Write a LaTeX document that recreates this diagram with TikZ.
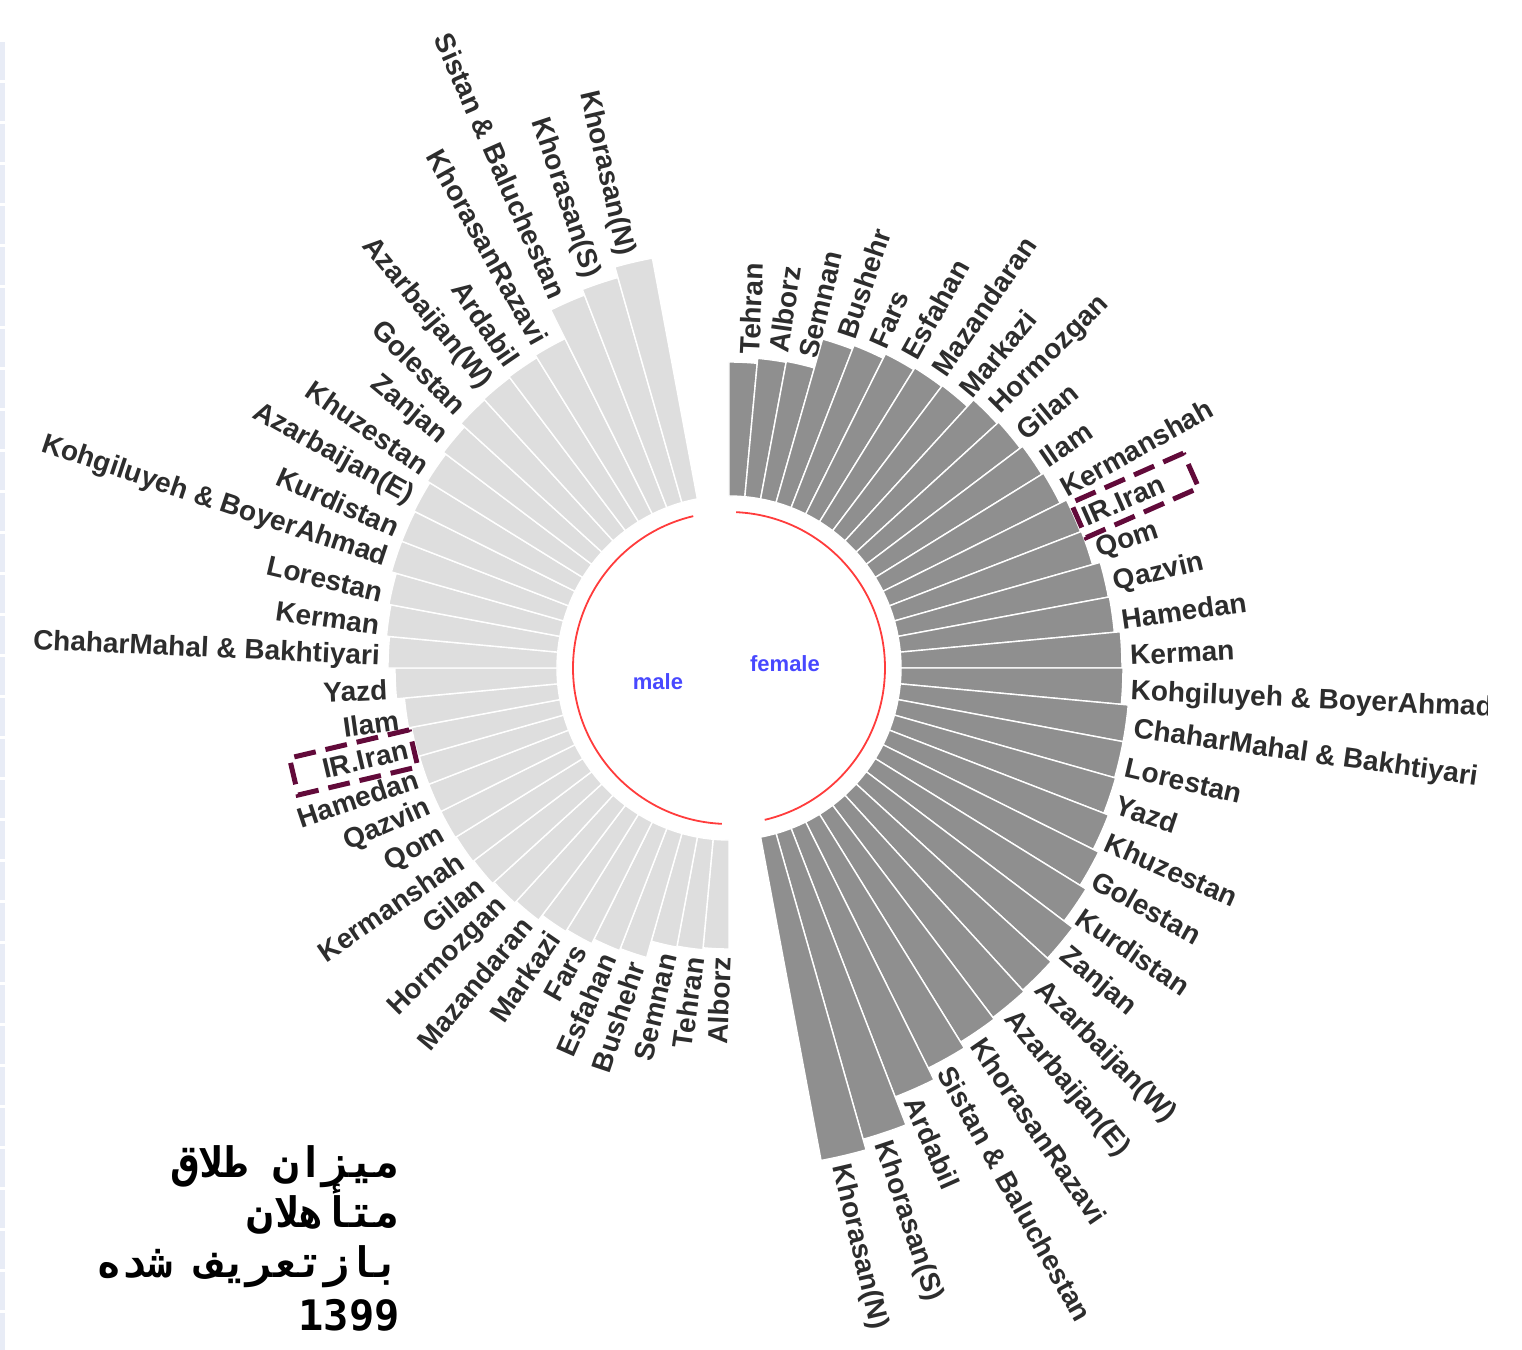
\documentclass[tikz,border=0pt]{standalone}
\usepackage{fontspec}
\setmainfont{Liberation Sans}
\newfontfamily\persianfont[Script=Arabic]{DejaVu Sans Mono}
\newfontfamily\digitfont{DejaVu Sans Mono}
\TeXXeTstate=1

\definecolor{femalegrey}{RGB}{143,143,143}
\definecolor{malegrey}{RGB}{222,222,222}
\definecolor{labelgrey}{RGB}{45,45,45}
\definecolor{sexblue}{RGB}{72,72,255}
\definecolor{ringred}{RGB}{255,60,60}
\definecolor{boxmaroon}{RGB}{98,10,58}
\definecolor{rulerstrip}{RGB}{232,236,246}

\begin{document}
\begin{tikzpicture}[
    x=0.5pt, y=0.5pt, % one unit = one pixel of the reference
    bar/.style={draw=white, line width=0.7pt},
    femalebar/.style={bar, fill=femalegrey},
    malebar/.style={bar, fill=malegrey},
    province/.style={text=labelgrey, inner sep=0pt, font=\bfseries\fontsize{14}{16}\selectfont},
    sexname/.style={text=sexblue, font=\bfseries\fontsize{11}{13}\selectfont},
    innerring/.style={draw=ringred, line width=0.9pt},
    highlight/.style={draw=boxmaroon, line width=2.5pt, dash pattern=on 11pt off 5pt,
        minimum width=61.5pt, minimum height=19pt, inner sep=0pt},
    persian/.style={anchor=base east, inner sep=0pt, font=\persianfont\bfseries\fontsize{21}{26}\selectfont},
]
\useasboundingbox (-729,-682) rectangle (793,668);

% ruler strip on the left edge
\foreach \i in {0,...,31}
    \fill[rulerstrip] (-729,626-41*\i) rectangle (-724,588-41*\i);

\pgfmathsetmacro{\slot}{360/68}

\begin{scope}
\clip (-729,-682) rectangle (758,668);

% female side, clockwise from the top
\foreach \len/\name [count=\k from 0] in {306/Tehran, 311/Alborz, 312/Semnan, 342/Bushehr,
    346/Fars, 351/Esfahan, 353/Mazandaran, 354/Markazi, 363/Hormozgan, 365/Gilan, 368/Ilam,
    370/Kermanshah, 377/IR.Iran, 378/Qom, 386/Qazvin, 387/Hamedan, 393/Kerman,
    394/Kohgiluyeh \& BoyerAhmad, 401/ChaharMahal \& Bakhtiyari, 401/Lorestan, 402/Yazd,
    407/Khuzestan, 413/Golestan, 420/Kurdistan, 431/Zanjan, 436/Azarbaijan(W),
    438/Azarbaijan(E), 440/KhorasanRazavi, 447/Sistan \& Baluchestan, 460/Ardabil,
    490/Khorasan(S), 501/Khorasan(N)}{
    \pgfmathsetmacro{\startang}{90-\k*\slot}
    \pgfmathsetmacro{\endang}{\startang-\slot}
    \pgfmathsetmacro{\midang}{\startang-\slot/2}
    \pgfmathsetmacro{\tipx}{\len*cos(\midang)+6*sin(\midang)}
    \pgfmathsetmacro{\tipy}{\len*sin(\midang)-6*cos(\midang)}
    \pgfmathsetmacro{\labx}{\tipx+8*cos(\midang)}
    \pgfmathsetmacro{\laby}{\tipy+8*sin(\midang)}
    \path[femalebar] (\startang:172) arc[start angle=\startang, end angle=\endang, radius=172]
        -- (\endang:\len) arc[start angle=\endang, end angle=\startang, radius=\len] -- cycle;
    \coordinate (ftip\k) at (\tipx,\tipy);
    \node[province, anchor=west, rotate=\midang] (f\k) at (\labx,\laby) {\name};
}

% male side, clockwise from the bottom
\foreach \len/\name [count=\k from 0] in {281/Alborz, 283/Tehran, 284/Semnan, 301/Bushehr,
    303/Esfahan, 308/Fars, 310/Markazi, 316/Mazandaran, 318/Hormozgan, 320/Gilan,
    321/Kermanshah, 322/Qom, 322/Qazvin, 322/Hamedan, 323/IR.Iran, 326/Ilam, 334/Yazd,
    341/ChaharMahal \& Bakhtiyari, 344/Kerman, 346/Lorestan, 351/Kohgiluyeh \& BoyerAhmad,
    351/Kurdistan, 352/Azarbaijan(E), 355/Khuzestan, 358/Zanjan, 363/Golestan,
    364/Azarbaijan(W), 365/Ardabil, 368/KhorasanRazavi, 400/Sistan \& Baluchestan,
    406/Khorasan(S), 417/Khorasan(N)}{
    \pgfmathsetmacro{\startang}{270-\k*\slot}
    \pgfmathsetmacro{\endang}{\startang-\slot}
    \pgfmathsetmacro{\midang}{\startang-\slot/2}
    \pgfmathsetmacro{\tipx}{\len*cos(\midang)-6*sin(\midang)}
    \pgfmathsetmacro{\tipy}{\len*sin(\midang)+6*cos(\midang)}
    \pgfmathsetmacro{\labx}{\tipx+8*cos(\midang)}
    \pgfmathsetmacro{\laby}{\tipy+8*sin(\midang)}
    \pgfmathsetmacro{\labrot}{\midang-180}
    \path[malebar] (\startang:172) arc[start angle=\startang, end angle=\endang, radius=172]
        -- (\endang:\len) arc[start angle=\endang, end angle=\startang, radius=\len] -- cycle;
    \coordinate (mtip\k) at (\tipx,\tipy);
    \node[province, anchor=east, rotate=\labrot] (m\k) at (\labx,\laby) {\name};
}
\end{scope}

% inner ring under each half
\pgfmathsetmacro{\ffirst}{90-\slot/2}
\pgfmathsetmacro{\flast}{90-31.5*\slot}
\pgfmathsetmacro{\mfirst}{270-\slot/2}
\pgfmathsetmacro{\mlast}{270-31.5*\slot}
\draw[innerring] (\ffirst:156) arc[start angle=\ffirst, end angle=\flast, radius=156];
\draw[innerring] (\mfirst:156) arc[start angle=\mfirst, end angle=\mlast, radius=156];

\node[sexname] (male) at (-71,-14) {male};
\node[sexname] (female) at (56,4) {female};

% IR.Iran boxes
\pgfmathsetmacro{\fboxrot}{90-12.5*\slot}
\pgfmathsetmacro{\mboxrot}{90-14.5*\slot}
\node[highlight, anchor=west, rotate=\fboxrot] (fbox) at (ftip12) {};
\node[highlight, anchor=east, rotate=\mboxrot] (mbox) at (mtip14) {};

% title
\node[persian] (title1) at (-329,-509) {\beginR میزان طلاق\endR};
\node[persian] (title2) at (-329,-559) {\beginR متأهلان\endR};
\node[persian] (title3) at (-329,-609) {\beginR بازتعریف شده\endR};
\node[anchor=base east, inner sep=0pt, font=\digitfont\bfseries\fontsize{21}{26}\selectfont] (year) at (-329,-662) {1399};
\end{tikzpicture}
\end{document}
